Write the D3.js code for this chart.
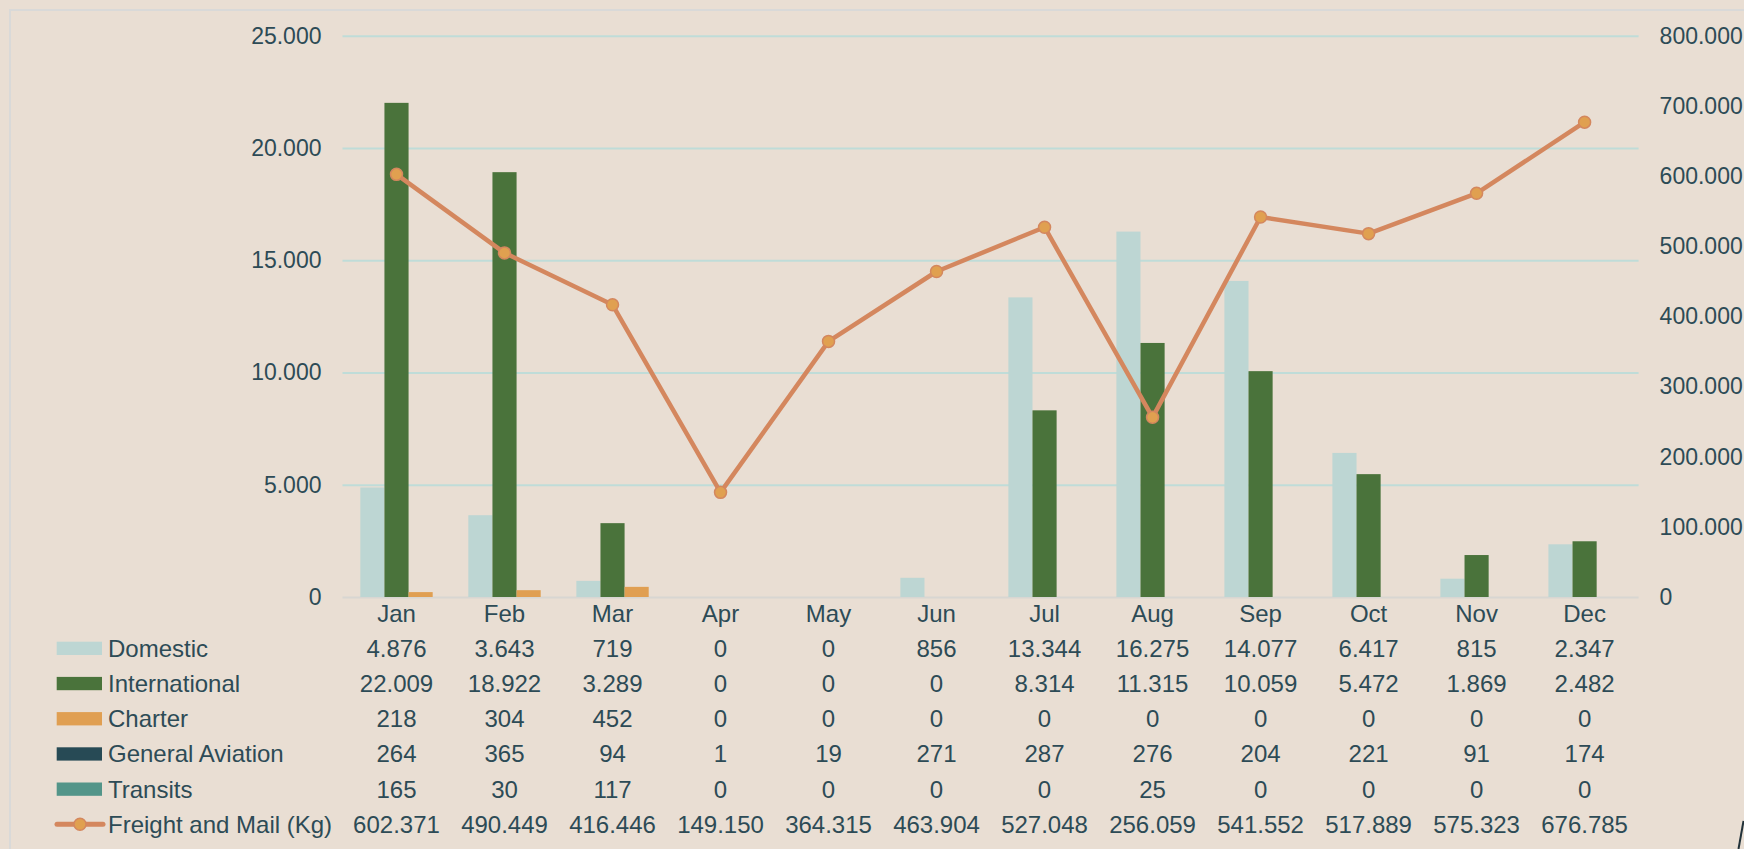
<!DOCTYPE html>
<html>
<head>
<meta charset="utf-8">
<script src="https://cdn.jsdelivr.net/npm/d3@7/dist/d3.min.js"></script>
<style>
  html, body { margin: 0; padding: 0; background: #e9ded3; overflow: hidden; }
  svg { display: block; font-family: "Liberation Sans", Arial, sans-serif; }
</style>
</head>
<body>
<div id="chart"></div>
<script>
// months and series
var months = ["Jan", "Feb", "Mar", "Apr", "May", "Jun", "Jul", "Aug", "Sep", "Oct", "Nov", "Dec"];
var domestic = [4876, 3643, 719, 0, 0, 856, 13344, 16275, 14077, 6417, 815, 2347];
var international = [22009, 18922, 3289, 0, 0, 0, 8314, 11315, 10059, 5472, 1869, 2482];
var charter = [218, 304, 452, 0, 0, 0, 0, 0, 0, 0, 0, 0];
var generalAviation = [264, 365, 94, 1, 19, 271, 287, 276, 204, 221, 91, 174];
var transits = [165, 30, 117, 0, 0, 0, 0, 25, 0, 0, 0, 0];
var freight = [602371, 490449, 416446, 149150, 364315, 463904, 527048, 256059, 541552, 517889, 575323, 676785];

var leftTicks = [0, 5000, 10000, 15000, 20000, 25000];
var rightTicks = [0, 100000, 200000, 300000, 400000, 500000, 600000, 700000, 800000];

// GA and transits are only listed in the table, no bars for them
var series = [
  { name: "Domestic", values: domestic, color: "#bdd6d3", bar: true },
  { name: "International", values: international, color: "#4a733b", bar: true },
  { name: "Charter", values: charter, color: "#e09f52", bar: true },
  { name: "General Aviation", values: generalAviation, color: "#274a55", bar: false },
  { name: "Transits", values: transits, color: "#539589", bar: false }
];
var lineName = "Freight and Mail (Kg)";

var W = 1744, H = 849;
// note: "top" is taken by window.top, so plot edges get their own names
var plotL = 342.5, plotR = 1638.6, plotT = 35.7, plotB = 597;
var textColor = "#2d4b56";
var lineColor = "#d4875e", dotColor = "#e0a050";

var loc = d3.formatLocale({ decimal: ",", thousands: ".", grouping: [3], currency: ["", ""] });
var fmt = loc.format(",d");

var svg = d3.select("#chart").append("svg")
  .attr("width", W)
  .attr("height", H);

// outer frame
svg.append("rect")
  .attr("x", 10).attr("y", 10)
  .attr("width", 1800).attr("height", 900)
  .attr("fill", "none")
  .attr("stroke", "#d9d9d8")
  .attr("stroke-width", 2);

var x = d3.scaleBand().domain(months).range([plotL, plotR]).padding(0);
var barSeries = series.filter(function(s) { return s.bar; });
var bw = x.bandwidth();
var x1 = d3.scaleBand()
  .domain(barSeries.map(function(s) { return s.name; }))
  .range([bw * 0.165, bw * 0.835])
  .padding(0);

var yL = d3.scaleLinear().domain([0, 25000]).range([plotB, plotT]);
var yR = d3.scaleLinear().domain([0, 800000]).range([plotB, plotT]);

// grid lines + left axis
var gLeft = svg.append("g")
  .attr("transform", "translate(" + plotL + ",0)")
  .call(d3.axisLeft(yL).tickValues(leftTicks).tickSize(-(plotR - plotL)).tickPadding(21).tickFormat(fmt));
gLeft.select(".domain").remove();
gLeft.selectAll(".tick line")
  .attr("stroke", function(d) { return d === 0 ? "#d8d6d2" : "#bfdcd8"; })
  .attr("stroke-width", 2);
gLeft.selectAll("text")
  .attr("fill", textColor)
  .attr("font-size", 23)
  .attr("font-family", "Liberation Sans, Arial, sans-serif");

var gRight = svg.append("g")
  .attr("transform", "translate(" + plotR + ",0)")
  .call(d3.axisRight(yR).tickValues(rightTicks).tickSize(0).tickPadding(21).tickFormat(fmt));
gRight.select(".domain").remove();
gRight.selectAll("text")
  .attr("fill", textColor)
  .attr("font-size", 23)
  .attr("font-family", "Liberation Sans, Arial, sans-serif");

// bars
var groups = svg.selectAll(".month")
  .data(months)
  .enter().append("g")
  .attr("class", "month")
  .attr("transform", function(d) { return "translate(" + x(d) + ",0)"; });

groups.selectAll("rect")
  .data(function(m, i) { return barSeries.map(function(s) { return { s: s, v: s.values[i] }; }); })
  .enter().append("rect")
  .attr("x", function(d) { return x1(d.s.name); })
  .attr("width", x1.bandwidth())
  .attr("y", function(d) { return yL(d.v); })
  .attr("height", function(d) { return plotB - yL(d.v); })
  .attr("fill", function(d) { return d.s.color; });

// freight line
var line = d3.line()
  .x(function(d, i) { return x(months[i]) + bw / 2; })
  .y(function(d) { return yR(d); });

svg.append("path")
  .datum(freight)
  .attr("d", line)
  .attr("fill", "none")
  .attr("stroke", lineColor)
  .attr("stroke-width", 4.5)
  .attr("stroke-linejoin", "round");

svg.selectAll(".pt")
  .data(freight)
  .enter().append("circle")
  .attr("class", "pt")
  .attr("cx", function(d, i) { return x(months[i]) + bw / 2; })
  .attr("cy", function(d) { return yR(d); })
  .attr("r", 6)
  .attr("fill", dotColor)
  .attr("stroke", lineColor)
  .attr("stroke-width", 1.5);

// month labels
var gX = svg.append("g")
  .attr("transform", "translate(0," + plotB + ")")
  .call(d3.axisBottom(x).tickSize(0));
gX.select(".domain").remove();
gX.selectAll("text")
  .attr("y", 16.5)
  .attr("dy", "0.35em")
  .attr("fill", textColor)
  .attr("font-size", 24)
  .attr("font-family", "Liberation Sans, Arial, sans-serif");

// data table with legend keys
var rowY0 = 648.3, rowStep = 35.2;
var rows = series.map(function(s) { return { name: s.name, values: s.values, color: s.color, line: false }; });
rows.push({ name: lineName, values: freight, color: lineColor, line: true });

var row = svg.selectAll(".row")
  .data(rows)
  .enter().append("g")
  .attr("class", "row")
  .attr("transform", function(d, i) { return "translate(0," + (rowY0 + i * rowStep) + ")"; });

row.filter(function(d) { return !d.line; })
  .append("rect")
  .attr("x", 56.7).attr("y", -6.6)
  .attr("width", 45.3).attr("height", 13.3)
  .attr("fill", function(d) { return d.color; });

var lr = row.filter(function(d) { return d.line; });
lr.append("line")
  .attr("x1", 57).attr("x2", 103)
  .attr("stroke", lineColor)
  .attr("stroke-width", 5)
  .attr("stroke-linecap", "round");
lr.append("circle")
  .attr("cx", 80).attr("r", 6)
  .attr("fill", dotColor)
  .attr("stroke", lineColor)
  .attr("stroke-width", 1.5);

row.append("text")
  .attr("x", 108)
  .attr("dy", "0.35em")
  .attr("fill", textColor)
  .attr("font-size", 24)
  .text(function(d) { return d.name; });

row.selectAll(".val")
  .data(function(d) { return d.values; })
  .enter().append("text")
  .attr("class", "val")
  .attr("x", function(d, i) { return x(months[i]) + bw / 2; })
  .attr("dy", "0.35em")
  .attr("text-anchor", "middle")
  .attr("fill", textColor)
  .attr("font-size", 24)
  .text(function(d) { return fmt(d); });

// stray mark bottom right of the screenshot
svg.append("path")
  .attr("d", "M1743.5,821 Q1741,835 1738.5,849")
  .attr("fill", "none")
  .attr("stroke", "#22323a")
  .attr("stroke-width", 2);
</script>
</body>
</html>
